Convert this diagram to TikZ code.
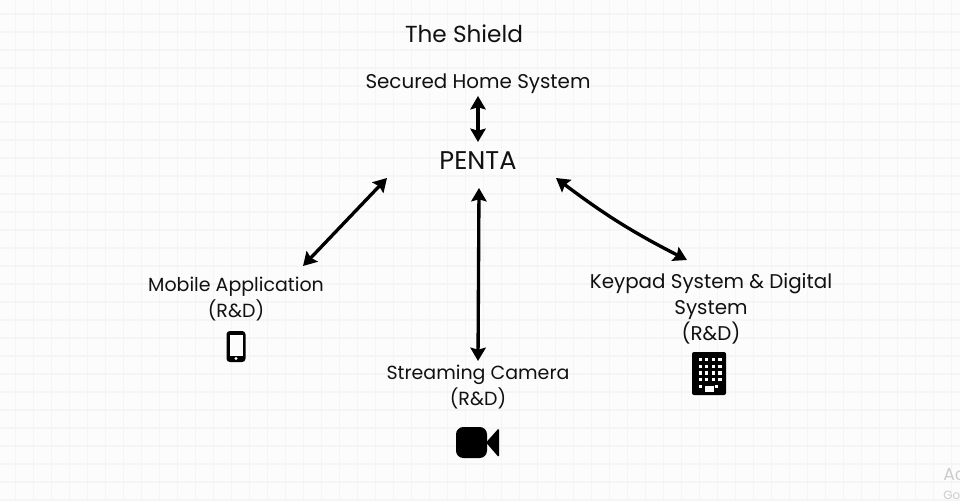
\documentclass[tikz,border=0pt]{standalone}
\usepackage{fontspec}
\setmainfont{Poppins}
\usetikzlibrary{arrows.meta}
\definecolor{paper}{HTML}{FCFCFC}
\definecolor{gridline}{HTML}{F5F5F5}
\definecolor{ink}{HTML}{111111}
\tikzset{
  lbl/.style={text=ink,align=center,inner sep=0pt,font=\fontsize{14.9}{19.5}\selectfont},
  lblsmall/.style={lbl,font=\fontsize{14.25}{19.5}\selectfont},
  link/.style={line width=2.5pt,draw=black,{Stealth[length=10pt,width=11.5pt,inset=1.5pt]}-{Stealth[length=10pt,width=11.5pt,inset=1.5pt]}},
  gridln/.style={draw=gridline,line width=0.9pt},
  wm/.style={text=black!20,inner sep=0pt,anchor=west},
}
\begin{document}
\begin{tikzpicture}[x=0.75pt,y=-0.75pt]
\useasboundingbox (0,0) rectangle (960,501);
\fill[paper] (0,0) rectangle (960,501);
\foreach \i in {0,...,53} \draw[gridln] ({15.5+18*\i},0) -- ({15.5+18*\i},501);
\foreach \i in {0,...,27} \draw[gridln] (0,{14+18*\i}) -- (960,{14+18*\i});

\node[lbl,font=\fontsize{17.4}{20}\selectfont] (title) at (464,33.5) {The Shield};
\node[lbl] (home) at (478,84) {Secured Home System};
\node[lbl,font=\fontsize{19.2}{22}\selectfont] (penta) at (478,161) {PENTA};
\node[lblsmall] (mobile) at (236,299) {Mobile Application\\(R\&D)};
\node[lblsmall] (camera) at (478,387) {Streaming Camera\\(R\&D)};
\node[lbl] (keypad) at (711,309) {Keypad System \& Digital\\System\\(R\&D)};

\coordinate (a1) at (478,96); \coordinate (a2) at (478,142);
\coordinate (b1) at (479,188); \coordinate (b2) at (478,361);
\coordinate (c1) at (387,178); \coordinate (c2) at (303,266);
\coordinate (d1) at (556,178); \coordinate (d2) at (687,260);
\draw[link] (a1) -- (a2);
\draw[link] (b1) -- (b2);
\draw[link] (c1) -- (c2);
\draw[link] (d1) to[bend right=5] (d2);

% phone icon
\fill[black,rounded corners=2.5] (226.5,331) rectangle (245.5,362);
\fill[paper] (229.5,335) rectangle (242.5,355.5);
\fill[paper] (236,358.5) circle (1.7);

% building icon
\fill[black,rounded corners=1.5] (692,352) rectangle (726,395);
\foreach \r in {0,...,4} \foreach \c in {0,...,3}
  \fill[paper] ({698.5+\c*6.6},{358+\r*6.7}) rectangle ++(3.2,3.2);
\fill[black] (696,384) rectangle (722,392);
\fill[paper] (698.5,385) rectangle ++(3.2,3.2);
\fill[paper] (718.3,385) rectangle ++(-3.2,3.2);
\fill[paper] (704.5,385.5) rectangle (713.5,392);

% camera icon
\fill[black,rounded corners=5.5] (456,427) rectangle (487,458);
\fill[black,rounded corners=1.2] (486,442.5) -- (499,428) -- (499,457.5) -- cycle;

% watermark fragments
\begin{scope}
\clip (0,0) rectangle (960,501);
\node[wm,font=\fontsize{13}{15}\selectfont] (wma) at (943,475) {Ac};
\node[wm,font=\fontsize{9}{11}\selectfont] (wmb) at (943,495) {Go};
\end{scope}
\end{tikzpicture}
\end{document}
